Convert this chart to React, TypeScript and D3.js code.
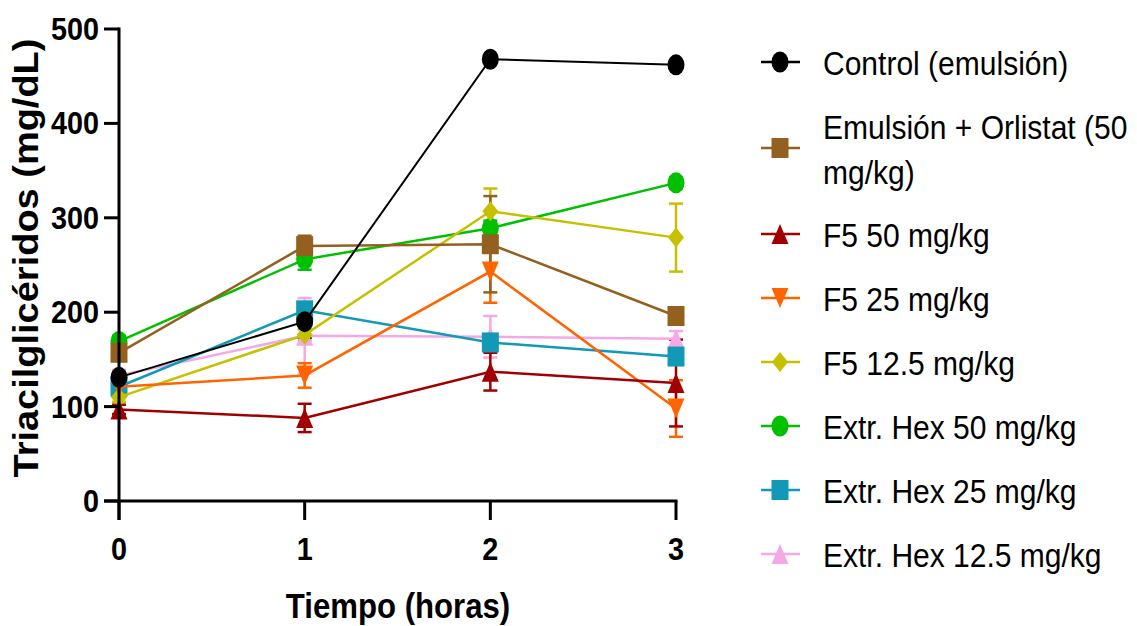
import React from "react";
import * as d3 from "d3";

// horas
const times = [0, 1, 2, 3];

const seriesNames = [
  "Control (emulsión)",
  "Emulsión + Orlistat (50 mg/kg)",
  "F5 50 mg/kg",
  "F5 25 mg/kg",
  "F5 12.5 mg/kg",
  "Extr. Hex 50 mg/kg",
  "Extr. Hex 25 mg/kg",
  "Extr. Hex 12.5 mg/kg",
];

// legend text split into lines, as in the figure
const legendLines = [
  ["Control (emulsión)"],
  ["Emulsión + Orlistat (50", "mg/kg)"],
  ["F5 50 mg/kg"],
  ["F5 25 mg/kg"],
  ["F5 12.5 mg/kg"],
  ["Extr. Hex 50 mg/kg"],
  ["Extr. Hex 25 mg/kg"],
  ["Extr. Hex 12.5 mg/kg"],
];

const means = [
  [131, 190, 468, 462],
  [157, 270, 272, 196],
  [97, 88, 137, 125],
  [121, 133, 243, 98],
  [110, 176, 307, 279],
  [169, 256, 289, 337],
  [121, 202, 168, 153],
  [133, 175, 174, 172],
];

const sems = [
  [5, 17, 4, 4],
  [6, 11, 51, 6],
  [5, 15, 20, 46],
  [5, 13, 33, 30],
  [5, 6, 24, 36],
  [6, 11, 8, 6],
  [6, 8, 8, 6],
  [6, 40, 22, 8],
];

const colors = [
  "#000000",
  "#93601f",
  "#a00000",
  "#ff6400",
  "#c6c000",
  "#00c000",
  "#1199b5",
  "#f5a8e6",
];

const shapes = ["circle", "square", "triUp", "triDown", "diamond", "circle", "square", "triUp"];

const yTicks = [0, 100, 200, 300, 400, 500];

const markerPath = (shape: string, w: number, h: number) => {
  const a = w / 2;
  const b = h / 2;
  if (shape === "square") return `M${-a},${-b}H${a}V${b}H${-a}Z`;
  if (shape === "triUp") return `M0,${-b}L${a},${b}L${-a},${b}Z`;
  if (shape === "triDown") return `M${-a},${-b}L${a},${-b}L0,${b}Z`;
  if (shape === "diamond") return `M0,${-b}L${a},0L0,${b}L${-a},0Z`;
  return "";
};

function Marker({ shape, color, x, y }: { shape: string; color: string; x: number; y: number }) {
  const sizes: Record<string, [number, number]> = {
    circle: [17, 21],
    square: [17, 20],
    triUp: [17, 20],
    triDown: [17, 20],
    diamond: [16, 20],
  };
  const [w, h] = sizes[shape];
  if (shape === "circle") {
    return <ellipse cx={x} cy={y} rx={w / 2} ry={h / 2} fill={color} />;
  }
  return <path transform={`translate(${x},${y})`} d={markerPath(shape, w, h)} fill={color} />;
}

export default function App() {
  const width = 1137;
  const height = 626;
  const x = d3.scaleLinear().domain([0, 3]).range([119, 676]);
  const y = d3.scaleLinear().domain([0, 500]).range([501, 29]);

  const line = d3
    .line<number>()
    .x((_, i) => x(times[i]))
    .y((d) => y(d));

  const font = "'Liberation Sans', Arial, sans-serif";
  const order = d3.range(seriesNames.length).reverse();

  // legend rows: one-line rows 64px apart, a two-line row takes extra room
  let ly = 62;
  const legendY: number[] = [];
  legendLines.forEach((lines, i) => {
    if (i > 0) {
      const extra = (legendLines[i - 1].length > 1 ? 22 : 0) + (lines.length > 1 ? 22 : 0);
      ly += 64 + extra;
    }
    legendY.push(ly);
  });

  return (
    <svg
      width={width}
      height={height}
      style={{ position: "absolute", left: 0, top: 0, background: "#fff" }}
      fontFamily={font}
    >
      {/* error bars */}
      {order.map((s) => (
        <g key={`err${s}`} stroke={colors[s]} strokeWidth={2.5}>
          {times.map((t, i) => {
            const cx = x(t);
            const top = y(means[s][i] + sems[s][i]);
            const bot = y(means[s][i] - sems[s][i]);
            return (
              <g key={i}>
                <line x1={cx} x2={cx} y1={top} y2={bot} />
                <line x1={cx - 7} x2={cx + 7} y1={top} y2={top} />
                <line x1={cx - 7} x2={cx + 7} y1={bot} y2={bot} />
              </g>
            );
          })}
        </g>
      ))}

      {/* lines and markers */}
      {order.map((s) => (
        <g key={`ser${s}`}>
          <path d={line(means[s]) || ""} fill="none" stroke={colors[s]} strokeWidth={s === 0 ? 2 : 2.5} />
          {times.map((t, i) => (
            <Marker key={i} shape={shapes[s]} color={colors[s]} x={x(t)} y={y(means[s][i])} />
          ))}
        </g>
      ))}

      {/* axes */}
      <g stroke="#000" strokeWidth={3} fill="none">
        <line x1={x(0)} x2={x(0)} y1={y(500) - 1.5} y2={520} />
        <line x1={x(0) - 15} x2={x(3) + 1.5} y1={y(0)} y2={y(0)} />
        {yTicks.map((v) => (
          <line key={v} x1={x(0) - 15} x2={x(0)} y1={y(v)} y2={y(v)} />
        ))}
        {times.map((t) => (
          <line key={t} x1={x(t)} x2={x(t)} y1={y(0)} y2={520} />
        ))}
      </g>
      {yTicks.map((v) => (
        <text
          key={v}
          transform={`translate(99,${y(v) + 11}) scale(0.93,1)`}
          textAnchor="end"
          fontSize={31}
          fontWeight="bold"
        >
          {v}
        </text>
      ))}
      {times.map((t) => (
        <text
          key={t}
          transform={`translate(${x(t)},${560}) scale(0.93,1)`}
          textAnchor="middle"
          fontSize={31}
          fontWeight="bold"
        >
          {t}
        </text>
      ))}
      <text
        transform={`translate(398,618) scale(0.89,1)`}
        textAnchor="middle"
        fontSize={35}
        fontWeight="bold"
      >
        Tiempo (horas)
      </text>
      <text
        transform={`translate(38,258) rotate(-90) scale(1,0.9)`}
        textAnchor="middle"
        fontSize={38}
        fontWeight="bold"
      >
        Triacilglicéridos (mg/dL)
      </text>

      {/* legend */}
      {legendLines.map((lines, i) => {
        const my = legendY[i];
        const first = my + 13 - (lines.length - 1) * 22.5;
        return (
          <g key={`leg${i}`}>
            <line x1={761} x2={800} y1={my} y2={my} stroke={colors[i]} strokeWidth={2.5} />
            <Marker shape={shapes[i]} color={colors[i]} x={780} y={my} />
            {lines.map((l, j) => (
              <text key={j} transform={`translate(823,${first + j * 45}) scale(0.91,1)`} fontSize={33}>
                {l}
              </text>
            ))}
          </g>
        );
      })}
    </svg>
  );
}
